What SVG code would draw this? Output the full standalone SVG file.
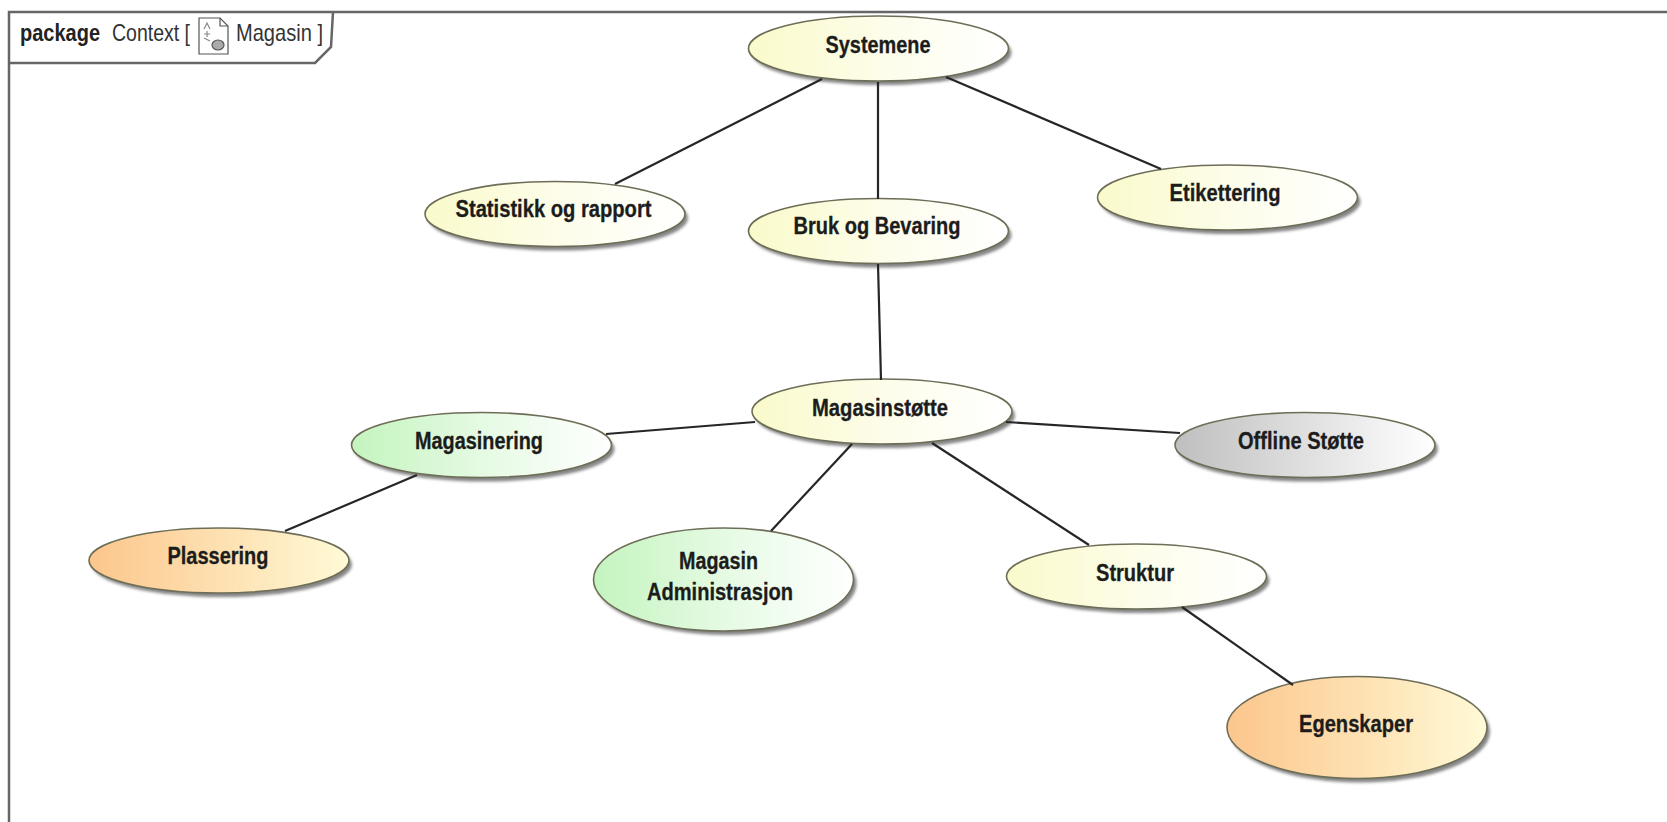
<svg xmlns="http://www.w3.org/2000/svg" width="1667" height="822" viewBox="0 0 1667 822">
  <defs>
    <linearGradient id="gy"><stop offset="0" stop-color="#fafacb"/><stop offset="0.55" stop-color="#fdfdec"/><stop offset="1" stop-color="#ffffff"/></linearGradient>
    <linearGradient id="gg"><stop offset="0" stop-color="#c4f4bf"/><stop offset="0.55" stop-color="#e8fbe6"/><stop offset="1" stop-color="#ffffff"/></linearGradient>
    <linearGradient id="go"><stop offset="0" stop-color="#fcc68c"/><stop offset="1" stop-color="#fffad6"/></linearGradient>
    <linearGradient id="gs"><stop offset="0" stop-color="#bfbfbf"/><stop offset="1" stop-color="#ffffff"/></linearGradient>
    <filter id="soft" x="-10%" y="-15%" width="120%" height="130%"><feGaussianBlur stdDeviation="1.5"/></filter>
  </defs>
  <style>
    .frame { fill: none; stroke: #666666; stroke-width: 2.5; }
    .conn line { stroke: #262626; stroke-width: 2.2; }
    .sh { fill: #858585; filter: url(#soft); }
    .b { stroke: #6e6e58; stroke-width: 1.6; }
    .t { font-family: "Liberation Sans", Arial, sans-serif; font-weight: 700; font-size: 23px; fill: #1c1c1c; stroke: #1c1c1c; stroke-width: 0.3; text-anchor: middle; }
    .f { font-family: "Liberation Sans", Arial, sans-serif; font-size: 24px; fill: #333333; }
  </style>
  <rect width="1667" height="822" fill="#ffffff"/>
  <g id="frame">
    <path class="frame" d="M1667 12H9V822"/>
    <path class="frame" d="M9 63H315L331 47L333 12"/>
    <text class="f" x="20" y="41" font-weight="700" textLength="80" lengthAdjust="spacingAndGlyphs" style="fill:#222222">package</text>
    <text class="f" x="112" y="41" textLength="78" lengthAdjust="spacingAndGlyphs">Context [</text>
    <text class="f" x="236" y="41" textLength="87" lengthAdjust="spacingAndGlyphs">Magasin ]</text>
    <g id="frame-icon" fill="none" stroke="#555555" stroke-width="1.2">
      <path d="M199 18H220L228 26V54H199Z" fill="#ffffff"/>
      <path d="M220 18V26H228"/>
      <path d="M204 29L207 23L210 29M204 34H210M207 31V37M204 38L210 41" stroke="#888888"/>
      <ellipse cx="218" cy="45" rx="6" ry="5" fill="#aaaaaa"/>
    </g>
  </g>
  <g id="systemene"><ellipse class="sh" cx="881.5" cy="52.5" rx="130" ry="32.5"/><ellipse class="b" cx="878.5" cy="48.5" rx="130" ry="32.5" fill="url(#gy)"/><text class="t" x="878" y="53" textLength="105" lengthAdjust="spacingAndGlyphs">Systemene</text></g>
  <g id="statistikk"><ellipse class="sh" cx="558" cy="218" rx="130" ry="32.5"/><ellipse class="b" cx="555" cy="214" rx="130" ry="32.5" fill="url(#gy)"/><text class="t" x="553.5" y="217" textLength="196" lengthAdjust="spacingAndGlyphs">Statistikk og rapport</text></g>
  <g id="bruk"><ellipse class="sh" cx="881.5" cy="235" rx="130" ry="32.5"/><ellipse class="b" cx="878.5" cy="231" rx="130" ry="32.5" fill="url(#gy)"/><text class="t" x="877" y="234" textLength="167" lengthAdjust="spacingAndGlyphs">Bruk og Bevaring</text></g>
  <g id="etikettering"><ellipse class="sh" cx="1230.5" cy="201.5" rx="130" ry="32.5"/><ellipse class="b" cx="1227.5" cy="197.5" rx="130" ry="32.5" fill="url(#gy)"/><text class="t" x="1225" y="201" textLength="111" lengthAdjust="spacingAndGlyphs">Etikettering</text></g>
  <g id="magasinstotte"><ellipse class="sh" cx="885" cy="415.5" rx="130" ry="32.5"/><ellipse class="b" cx="882" cy="411.5" rx="130" ry="32.5" fill="url(#gy)"/><text class="t" x="880" y="416" textLength="136" lengthAdjust="spacingAndGlyphs">Magasinstøtte</text></g>
  <g id="magasinering"><ellipse class="sh" cx="484.5" cy="449" rx="130" ry="32.5"/><ellipse class="b" cx="481.5" cy="445" rx="130" ry="32.5" fill="url(#gg)"/><text class="t" x="479" y="449" textLength="128" lengthAdjust="spacingAndGlyphs">Magasinering</text></g>
  <g id="offline"><ellipse class="sh" cx="1308" cy="449" rx="130" ry="32.5"/><ellipse class="b" cx="1305" cy="445" rx="130" ry="32.5" fill="url(#gs)"/><text class="t" x="1301" y="449" textLength="126" lengthAdjust="spacingAndGlyphs">Offline Støtte</text></g>
  <g id="plassering"><ellipse class="sh" cx="222" cy="564.5" rx="130" ry="32.5"/><ellipse class="b" cx="219" cy="560.5" rx="130" ry="32.5" fill="url(#go)"/><text class="t" x="218" y="564" textLength="101" lengthAdjust="spacingAndGlyphs">Plassering</text></g>
  <g id="magasin-administrasjon"><ellipse class="sh" cx="726.5" cy="583.5" rx="130" ry="51.5"/><ellipse class="b" cx="723.5" cy="579.5" rx="130" ry="51.5" fill="url(#gg)"/><text class="t" x="718.5" y="569" textLength="79" lengthAdjust="spacingAndGlyphs">Magasin</text><text class="t" x="720" y="600" textLength="146" lengthAdjust="spacingAndGlyphs">Administrasjon</text></g>
  <g id="struktur"><ellipse class="sh" cx="1139.5" cy="580.5" rx="130" ry="32.5"/><ellipse class="b" cx="1136.5" cy="576.5" rx="130" ry="32.5" fill="url(#gy)"/><text class="t" x="1135" y="581" textLength="78" lengthAdjust="spacingAndGlyphs">Struktur</text></g>
  <g id="egenskaper"><ellipse class="sh" cx="1360" cy="731.5" rx="130" ry="51"/><ellipse class="b" cx="1357" cy="727.5" rx="130" ry="51" fill="url(#go)"/><text class="t" x="1356" y="732" textLength="114" lengthAdjust="spacingAndGlyphs">Egenskaper</text></g>
  <g id="connectors" class="conn">
    <line x1="822" y1="79" x2="615" y2="184"/>
    <line x1="878" y1="82" x2="878" y2="199"/>
    <line x1="946" y1="77" x2="1161" y2="169"/>
    <line x1="878" y1="264" x2="881" y2="380"/>
    <line x1="755" y1="422" x2="606" y2="434"/>
    <line x1="1006" y1="422" x2="1180" y2="433"/>
    <line x1="852" y1="444" x2="771" y2="531"/>
    <line x1="932" y1="443" x2="1089" y2="545"/>
    <line x1="417" y1="475" x2="285" y2="531"/>
    <line x1="1182" y1="607" x2="1293" y2="685"/>
  </g>
</svg>
